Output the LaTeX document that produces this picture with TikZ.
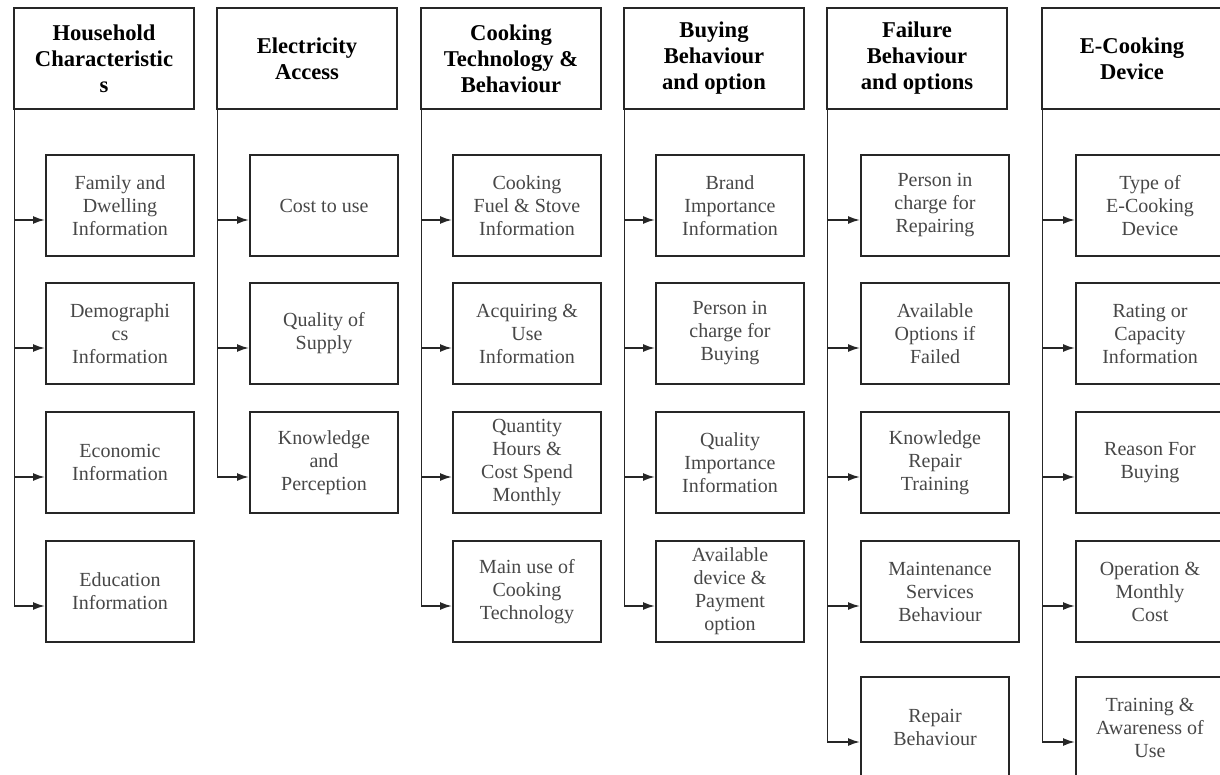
\documentclass[tikz,border=0pt]{standalone}
\usepackage{fontspec}
\setmainfont{Liberation Serif}
\usetikzlibrary{arrows.meta,calc}
\tikzset{
  hdr/.style={draw=black!85, line width=1pt, anchor=north west, inner sep=0pt,
    minimum width=90pt, minimum height=50.5pt, align=center,
    font=\fontsize{11.3}{13}\selectfont\bfseries},
  item/.style={draw=black!85, line width=1pt, anchor=north west, inner sep=0pt,
    minimum width=74pt, minimum height=50.5pt, align=center, text=black!72,
    font=\fontsize{10}{11.5}\selectfont},
  conn/.style={draw=black!85, line width=0.9pt, -{Latex[length=6pt,width=4pt]}}
}
\newcommand{\linkit}[2]{\draw[conn] ($(#1.south west)+(1.5,0)$) |- ($(#2.north west)+(0,66)$);}
\begin{document}
\begin{tikzpicture}[x=0.5pt,y=-0.5pt]
\clip (0,0) rectangle (1220,775);
\fill[white] (0,0) rectangle (1220,775);
% headers
\node[hdr] (h1) at (13,7) {Household\\Characteristic\\s};
\node[hdr] (h2) at (216,7) {Electricity\\Access};
\node[hdr] (h3) at (420,7) {Cooking\\Technology \&\\Behaviour};
\node[hdr] (h4) at (623,7) {Buying\\Behaviour\\and option};
\node[hdr] (h5) at (826,7) {Failure\\Behaviour\\and options};
\node[hdr] (h6) at (1041,7) {E-Cooking\\Device};
% column 1
\node[item] (a1) at (45,154) {Family and\\Dwelling\\Information};
\node[item] (a2) at (45,282) {Demographi\\cs\\Information};
\node[item] (a3) at (45,411) {Economic\\Information};
\node[item] (a4) at (45,540) {Education\\Information};
% column 2
\node[item] (b1) at (249,154) {Cost to use};
\node[item] (b2) at (249,282) {Quality of\\Supply};
\node[item] (b3) at (249,411) {Knowledge\\and\\Perception};
% column 3
\node[item] (c1) at (452,154) {Cooking\\Fuel \& Stove\\Information};
\node[item] (c2) at (452,282) {Acquiring \&\\Use\\Information};
\node[item] (c3) at (452,411) {Quantity\\Hours \&\\Cost Spend\\Monthly};
\node[item] (c4) at (452,540) {Main use of\\Cooking\\Technology};
% column 4
\node[item] (d1) at (655,154) {Brand\\Importance\\Information};
\node[item] (d2) at (655,282) {Person in\\charge for\\Buying};
\node[item] (d3) at (655,411) {Quality\\Importance\\Information};
\node[item] (d4) at (655,540) {Available\\device \&\\Payment\\option};
% column 5
\node[item] (e1) at (860,154) {Person in\\charge for\\Repairing};
\node[item] (e2) at (860,282) {Available\\Options if\\Failed};
\node[item] (e3) at (860,411) {Knowledge\\Repair\\Training};
\node[item, minimum width=79pt] (e4) at (860,540) {Maintenance\\Services\\Behaviour};
\node[item] (e5) at (860,676) {Repair\\Behaviour};
% column 6
\node[item] (f1) at (1075,154) {Type of\\E-Cooking\\Device};
\node[item] (f2) at (1075,282) {Rating or\\Capacity\\Information};
\node[item] (f3) at (1075,411) {Reason For\\Buying};
\node[item] (f4) at (1075,540) {Operation \&\\Monthly\\Cost};
\node[item] (f5) at (1075,676) {Training \&\\Awareness of\\Use};
% connectors
\foreach \c in {a1,a2,a3,a4} {\linkit{h1}{\c}}
\foreach \c in {b1,b2,b3} {\linkit{h2}{\c}}
\foreach \c in {c1,c2,c3,c4} {\linkit{h3}{\c}}
\foreach \c in {d1,d2,d3,d4} {\linkit{h4}{\c}}
\foreach \c in {e1,e2,e3,e4,e5} {\linkit{h5}{\c}}
\foreach \c in {f1,f2,f3,f4,f5} {\linkit{h6}{\c}}
\end{tikzpicture}
\end{document}
